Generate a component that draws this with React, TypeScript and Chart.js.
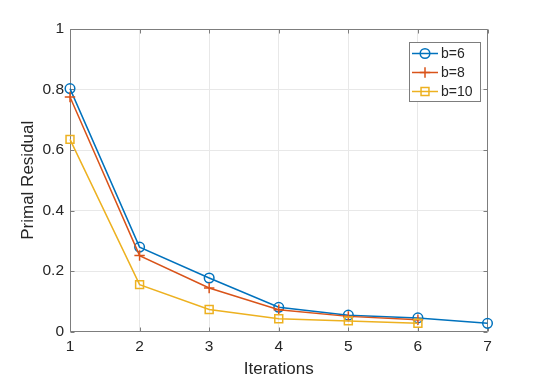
import React, { useEffect, useRef } from 'react';
import { Chart, registerables } from 'chart.js';

Chart.register(...registerables);

// ---- data ----
const iterations = [1, 2, 3, 4, 5, 6, 7];
const seriesB6 = [0.803, 0.279, 0.177, 0.080, 0.054, 0.045, 0.027];
const seriesB8 = [0.775, 0.251, 0.144, 0.072, 0.050, 0.039];
const seriesB10 = [0.635, 0.155, 0.073, 0.042, 0.035, 0.027];
const seriesLabels = ['b=6', 'b=8', 'b=10'];
const seriesColors = ['#0072BD', '#D95319', '#EDB120'];
const seriesMarkers = ['circle', 'cross', 'rect'];
const seriesMarkerRadius = [4.8, 5.2, 5.6];
const yTickValues = [0, 0.2, 0.4, 0.6, 0.8, 1];
const xTitle = 'Iterations';
const yTitle = 'Primal Residual';

const FONT = '"Liberation Sans", Arial, Helvetica, sans-serif';
const TEXT_COLOR = '#262626';
const AXIS_COLOR = '#7d7d7d';

const toPoints = (vals: number[]) => vals.map((v, i) => ({ x: iterations[i], y: v }));

const framePlugin = {
  id: 'matlabFrame',
  beforeDatasetsDraw(chart: any) {
    const { ctx, chartArea } = chart;
    const { left, right, top, bottom } = chartArea;
    const xs = chart.scales.x;
    const ys = chart.scales.y;
    ctx.save();
    ctx.strokeStyle = AXIS_COLOR;
    ctx.lineWidth = 1;
    const L = Math.round(left) + 0.5;
    const R = Math.round(right) - 0.5;
    const T = Math.round(top) + 0.5;
    const B = Math.round(bottom) - 0.5;
    ctx.beginPath();
    ctx.rect(L, T, R - L, B - T);
    ctx.stroke();
    const tl = 4;
    ctx.beginPath();
    iterations.forEach((v) => {
      const px = Math.round(xs.getPixelForValue(v)) + 0.5;
      ctx.moveTo(px, B);
      ctx.lineTo(px, B - tl);
      ctx.moveTo(px, T);
      ctx.lineTo(px, T + tl);
    });
    yTickValues.forEach((v) => {
      const py = Math.round(ys.getPixelForValue(v)) + 0.5;
      ctx.moveTo(L, py);
      ctx.lineTo(L + tl, py);
      ctx.moveTo(R, py);
      ctx.lineTo(R - tl, py);
    });
    ctx.stroke();
    ctx.restore();
  },
};

const drawMarker = (ctx: CanvasRenderingContext2D, style: string, x: number, y: number, r: number) => {
  ctx.beginPath();
  if (style === 'circle') {
    ctx.arc(x, y, r, 0, Math.PI * 2);
  } else if (style === 'cross') {
    ctx.moveTo(x - r, y);
    ctx.lineTo(x + r, y);
    ctx.moveTo(x, y - r);
    ctx.lineTo(x, y + r);
  } else {
    const s = r * Math.SQRT1_2;
    ctx.rect(x - s, y - s, 2 * s, 2 * s);
  }
  ctx.stroke();
};

const legendPlugin = {
  id: 'matlabLegend',
  afterDraw(chart: any) {
    const { ctx } = chart;
    const bx = 409.5;
    const by = 42.5;
    const bw = 71;
    const bh = 59;
    ctx.save();
    ctx.fillStyle = '#ffffff';
    ctx.fillRect(bx, by, bw, bh);
    ctx.strokeStyle = AXIS_COLOR;
    ctx.lineWidth = 1;
    ctx.strokeRect(bx, by, bw, bh);
    const rows = [53.5, 72.5, 91.5];
    seriesLabels.forEach((label, i) => {
      const y = rows[i];
      ctx.strokeStyle = seriesColors[i];
      ctx.lineWidth = 1.5;
      ctx.beginPath();
      ctx.moveTo(412, y);
      ctx.lineTo(438, y);
      ctx.stroke();
      drawMarker(ctx, seriesMarkers[i], 425, y, seriesMarkerRadius[i]);
      ctx.fillStyle = TEXT_COLOR;
      ctx.font = `14px ${FONT}`;
      ctx.textAlign = 'left';
      ctx.textBaseline = 'middle';
      ctx.fillText(label, 441, y + 0.5);
    });
    ctx.restore();
  },
};

export default function App() {
  const canvasRef = useRef<HTMLCanvasElement | null>(null);

  useEffect(() => {
    document.body.style.margin = '0';
    const canvas = canvasRef.current;
    if (!canvas) return;
    const allSeries = [seriesB6, seriesB8, seriesB10];
    const chart = new Chart(canvas, {
      type: 'line',
      data: {
        datasets: allSeries.map((vals, i) => ({
          label: seriesLabels[i],
          data: toPoints(vals),
          borderColor: seriesColors[i],
          backgroundColor: 'rgba(0,0,0,0)',
          borderWidth: 1.5,
          pointStyle: seriesMarkers[i] as any,
          pointRadius: seriesMarkerRadius[i],
          pointBorderWidth: 1.5,
          pointBorderColor: seriesColors[i],
          pointBackgroundColor: 'rgba(0,0,0,0)',
          tension: 0,
          fill: false,
          clip: false as any,
          order: 3 - i,
        })),
      },
      options: {
        responsive: false,
        animation: false,
        devicePixelRatio: 1,
        layout: { padding: { left: 0, right: 52.5, top: 29, bottom: 0 } },
        plugins: {
          legend: { display: false },
          tooltip: { enabled: false },
        },
        scales: {
          x: {
            type: 'linear',
            min: 1,
            max: 7,
            afterFit: (s: any) => { s.height = 49.5; },
            afterBuildTicks: (s: any) => { s.ticks = iterations.map((v) => ({ value: v })); },
            grid: { color: '#e8e8e8', lineWidth: 1, drawTicks: false },
            border: { display: false },
            ticks: {
              color: TEXT_COLOR,
              font: { family: FONT, size: 15.5 },
              padding: 6,
              maxRotation: 0,
              callback: (v: any) => String(v),
            },
            title: {
              display: true,
              text: xTitle,
              color: TEXT_COLOR,
              font: { family: FONT, size: 17 },
              padding: { top: 0, bottom: 1 },
            },
          },
          y: {
            type: 'linear',
            min: 0,
            max: 1,
            afterFit: (s: any) => { s.width = 70; },
            afterBuildTicks: (s: any) => { s.ticks = yTickValues.map((v) => ({ value: v })); },
            grid: { color: '#e8e8e8', lineWidth: 1, drawTicks: false },
            border: { display: false },
            ticks: {
              color: TEXT_COLOR,
              font: { family: FONT, size: 15.5 },
              padding: 6,
              callback: (v: any) => String(Math.round(v * 10) / 10),
            },
            title: {
              display: true,
              text: yTitle,
              color: TEXT_COLOR,
              font: { family: FONT, size: 17 },
              padding: { top: 18, bottom: 0 },
            },
          },
        },
      },
      plugins: [framePlugin, legendPlugin],
    });
    return () => chart.destroy();
  }, []);

  return (
    <div style={{ position: 'absolute', left: 0, top: 0, width: 540, height: 381, background: '#fff' }}>
      <canvas ref={canvasRef} width={540} height={381} style={{ display: 'block' }} />
    </div>
  );
}
